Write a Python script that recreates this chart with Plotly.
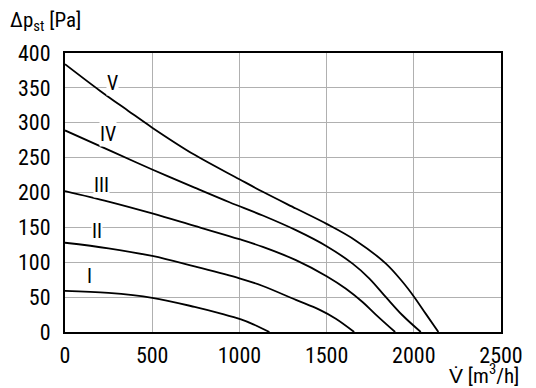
import plotly.graph_objects as go

# Curve data (flow m3/h, static pressure Pa)
v_x = [0, 200, 363, 500, 743, 1000, 1134, 1324, 1500, 1668, 1840, 1935, 2000, 2069, 2141]
v_y = [384, 346, 317, 293, 254, 219, 201, 177, 155, 131, 98, 72, 51, 26, 0]

iv_x = [0, 268, 500, 743, 943, 1134, 1324, 1500, 1649, 1744, 1840, 1935, 2040]
iv_y = [289, 259, 233, 207, 186, 167, 146, 123, 98, 77, 50, 24, 0]

iii_x = [0, 249, 500, 743, 1000, 1134, 1324, 1500, 1611, 1706, 1782, 1893]
iii_y = [202, 187, 170, 152, 133, 122, 103, 80, 62, 43, 25, 0]

ii_x = [0, 249, 500, 743, 1000, 1134, 1324, 1458, 1553, 1658]
ii_y = [128, 120, 109, 94, 77, 66, 46, 32, 19, 0]

i_x = [0, 249, 500, 743, 900, 1009, 1080, 1172]
i_y = [59, 56, 49, 36, 26, 18, 11, 0]

curve_names = ["V", "IV", "III", "II", "I"]
label_x = [275, 247, 212, 184, 143]
label_y = [357, 284, 211, 145, 81]

x_ticks = [0, 500, 1000, 1500, 2000, 2500]
y_ticks = [0, 50, 100, 150, 200, 250, 300, 350, 400]

FONT = "Liberation Sans Narrow, Arial Narrow, Roboto Condensed, Roboto, sans-serif"

fig = go.Figure()
for xs, ys, nm in zip([v_x, iv_x, iii_x, ii_x, i_x],
                      [v_y, iv_y, iii_y, ii_y, i_y], curve_names):
    fig.add_trace(go.Scatter(x=xs, y=ys, mode="lines", name=nm,
                             line=dict(color="black", width=1.8, shape="spline", smoothing=1.0),
                             showlegend=False, hoverinfo="skip"))

for nm, lx, ly in zip(curve_names, label_x, label_y):
    fig.add_annotation(x=lx, y=ly, text=nm, showarrow=False,
                       font=dict(family=FONT, size=20, color="black"),
                       bgcolor="white", borderpad=0)

fig.add_annotation(xref="paper", yref="paper", x=-0.131, y=1.112,
                   xanchor="left", yanchor="middle", showarrow=False,
                   text="Δp<sub>st</sub> [Pa]",
                   font=dict(family=FONT, size=21, color="black"))
fig.add_annotation(xref="paper", yref="paper", x=1.046, y=-0.152,
                   xanchor="right", yanchor="middle", showarrow=False,
                   text="V\u0307 [m<sup>3</sup>/h]",
                   font=dict(family=FONT, size=21, color="black"))

axis_common = dict(showgrid=True, gridcolor="#b0b0b0", gridwidth=1,
                   showline=True, linecolor="black", linewidth=2, mirror=True,
                   zeroline=False, ticks="outside", ticklen=0, automargin=False,
                   tickfont=dict(family=FONT, size=22, color="black"))

fig.update_xaxes(range=[0, 2500], tickvals=x_ticks, ticklabelstandoff=3, **axis_common)
fig.update_yaxes(range=[0, 400], tickvals=y_ticks, ticklabelstandoff=8, **axis_common)

fig.update_layout(width=536, height=388,
                  margin=dict(l=65, r=35, t=53, b=56),
                  plot_bgcolor="white", paper_bgcolor="white")

fig.write_html("out.html", config={"displayModeBar": False},
               post_script="document.body.style.margin='0';document.body.style.padding='0';")
